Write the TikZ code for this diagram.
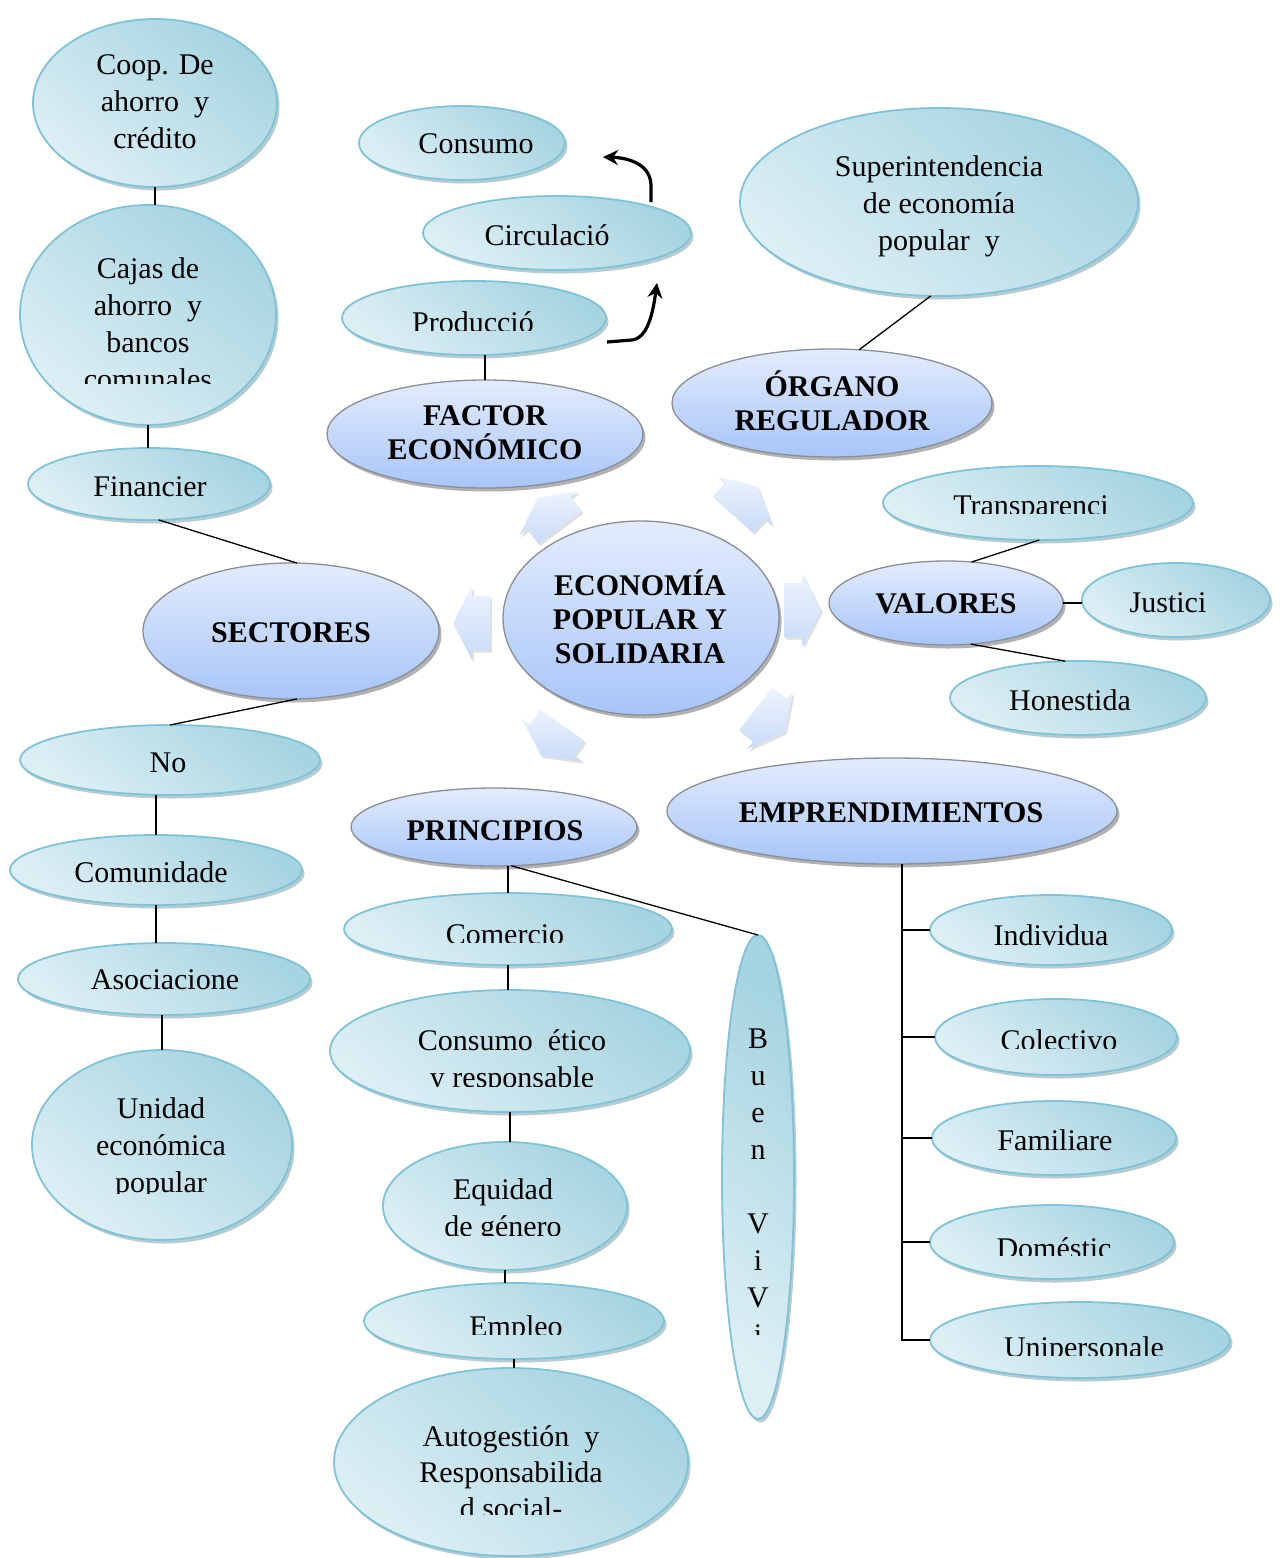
\documentclass[tikz,border=0pt]{standalone}
\usepackage{fontspec}
\setmainfont{Liberation Serif}
\usetikzlibrary{shapes.geometric,shadows,arrows.meta,calc}
\definecolor{cyL}{HTML}{DDEFF5}
\definecolor{cyD}{HTML}{A6D4E1}
\definecolor{cyB}{HTML}{80C3D6}
\definecolor{cyS}{HTML}{5E8E9C}
\definecolor{blT}{HTML}{E3ECFD}
\definecolor{blB}{HTML}{A8C5F8}
\definecolor{blE}{HTML}{8A8E98}
\definecolor{arT}{HTML}{EDF3FE}
\definecolor{arB}{HTML}{C9DBF8}
\newcommand{\tstr}{\rule{0pt}{30pt}}
\newcommand{\blockarr}[3]{\path[arw, shift={(#1,#2)}, rotate=#3] (-18,-27) -- (0,-27) -- (0,-37) -- (19,0) -- (0,37) -- (0,27) -- (-18,27) -- cycle;}
\begin{document}
\begin{tikzpicture}[x=1pt,y=-1pt,
  cy/.style={ellipse, draw=cyB, line width=1.8pt, inner sep=0pt, outer sep=0pt,
    top color=cyD, bottom color=cyL, shading angle=-40,
    drop shadow={shadow xshift=2.5pt, shadow yshift=-3.5pt, fill=cyS, opacity=0.45}},
  bl/.style={ellipse, draw=blE, line width=1.3pt, inner sep=0pt, outer sep=0pt,
    top color=blT, bottom color=blB,
    drop shadow={shadow xshift=2.5pt, shadow yshift=-3.5pt, fill=black, opacity=0.3}},
  tx/.style={font=\fontsize{30}{37}\selectfont, inner sep=0pt, align=center},
  bx/.style={font=\fontsize{30}{34}\selectfont\bfseries, inner sep=0pt, align=center},
  ln/.style={line width=1.3pt, black},
  cv/.style={line width=3.2pt, black, -{Stealth[length=15pt,width=15pt]}},
  arw/.style={top color=arT, bottom color=arB, draw=none,
    drop shadow={shadow xshift=2pt, shadow yshift=-2.5pt, fill=black, opacity=0.12}}
]
\fill[white] (0,0) rectangle (1280,1558);
\useasboundingbox (0,0) rectangle (1280,1558);

% ---------- block arrows around the centre ----------
\blockarr{549}{513}{127}
\blockarr{745}{501}{48}
\blockarr{472}{623}{180}
\blockarr{802}{610}{0}
\blockarr{552}{740}{-125}
\blockarr{770}{720}{-38}

% ---------- main (blue) nodes ----------
\node[bl, minimum width=276, minimum height=194] (eco) at (641,618) {};
\node[bx, anchor=north] (ecoT) at (640,565) {\tstr ECONOMÍA\\POPULAR Y\\SOLIDARIA};
\node[bl, minimum width=316, minimum height=108] (fac) at (485,434) {};
\node[bx, anchor=north] (facT) at (485,395) {\tstr FACTOR\\ECONÓMICO};
\node[bl, minimum width=320, minimum height=108] (org) at (832,403) {};
\node[bx, anchor=north] (orgT) at (832,366) {\tstr ÓRGANO\\REGULADOR};
\node[bl, minimum width=296, minimum height=136] (sect) at (291,631) {};
\node[bx, anchor=base] (sectT) at (291,642) {SECTORES};
\node[bl, minimum width=234, minimum height=84] (val) at (946,603) {};
\node[bx, anchor=base] (valT) at (946,613) {VALORES};
\node[bl, minimum width=450, minimum height=106] (emp) at (892,811) {};
\node[bx, anchor=base] (empT) at (891,822) {EMPRENDIMIENTOS};
\node[bl, minimum width=286, minimum height=78] (prin) at (494,827) {};
\node[bx, anchor=base] (prinT) at (495,840) {PRINCIPIOS};

% ---------- Sectores branch ----------
\node[cy, minimum width=244, minimum height=168] (coop) at (155,103) {};
\node[tx, anchor=north] (coopT) at (155,44) {\tstr Coop. De\\ahorro~ y\\crédito};
\node[cy, minimum width=256, minimum height=220] (cajas) at (148,315) {};
\begin{scope}
\clip (20,200) rectangle (280,383);
\node[tx, anchor=north] (cajasT) at (148,248) {\tstr Cajas de\\ahorro~ y\\bancos\\comunales};
\end{scope}
\node[cy, minimum width=242, minimum height=72] (fin) at (149,484) {};
\node[tx, anchor=base] (finT) at (150,496) {Financier};
\node[cy, minimum width=300, minimum height=70] (no) at (170,760) {};
\node[tx, anchor=base] (noT) at (168,772) {No};
\node[cy, minimum width=292, minimum height=70] (com) at (156,870) {};
\node[tx, anchor=base] (comT) at (151,882) {Comunidade};
\node[cy, minimum width=292, minimum height=72] (aso) at (164,979) {};
\node[tx, anchor=base] (asoT) at (165,989) {Asociacione};
\node[cy, minimum width=260, minimum height=190] (uni) at (162,1145) {};
\begin{scope}
\clip (30,1050) rectangle (295,1193);
\node[tx, anchor=north] (uniT) at (161,1088) {\tstr Unidad\\económica\\popular};
\end{scope}

% ---------- Factor económico branch ----------
\node[cy, minimum width=206, minimum height=74] (cons) at (462,143) {};
\node[tx, anchor=base] (consT) at (476,153) {Consumo};
\node[cy, minimum width=268, minimum height=74] (circ) at (557,233) {};
\node[tx, anchor=base] (circT) at (547,245) {Circulació};
\node[cy, minimum width=264, minimum height=74] (prod) at (474,318) {};
\begin{scope}
\clip (340,280) rectangle (610,330);
\node[tx, anchor=base] (prodT) at (473,332) {Producció};
\end{scope}

% ---------- Órgano regulador branch ----------
\node[cy, minimum width=398, minimum height=188] (sup) at (939,202) {};
\node[tx, anchor=north] (supT) at (939,146) {\tstr Superintendencia\\de economía\\popular~ y};

% ---------- Valores branch ----------
\node[cy, minimum width=310, minimum height=74] (trans) at (1038,503) {};
\begin{scope}
\clip (880,460) rectangle (1200,513);
\node[tx, anchor=base] (transT) at (1031,515) {Transparenci};
\end{scope}
\node[cy, minimum width=188, minimum height=74] (just) at (1176,600) {};
\node[tx, anchor=base] (justT) at (1168,612) {Justici};
\node[cy, minimum width=256, minimum height=74] (hon) at (1078,698) {};
\node[tx, anchor=base] (honT) at (1070,710) {Honestida};

% ---------- Principios branch ----------
\node[cy, minimum width=328, minimum height=72] (comer) at (508,929) {};
\begin{scope}
\clip (340,890) rectangle (675,942);
\node[tx, anchor=base] (comerT) at (505,944) {Comercio};
\end{scope}
\node[cy, minimum width=360, minimum height=122] (ceti) at (510,1051) {};
\begin{scope}
\clip (330,990) rectangle (695,1086);
\node[tx, anchor=north] (cetiT) at (512,1020) {\tstr Consumo~ ético\\y responsable};
\end{scope}
\node[cy, minimum width=244, minimum height=128] (equ) at (505,1206) {};
\begin{scope}
\clip (380,1140) rectangle (630,1235);
\node[tx, anchor=north] (equT) at (503,1169) {\tstr Equidad\\de género};
\end{scope}
\node[cy, minimum width=300, minimum height=76] (emple) at (514,1321) {};
\begin{scope}
\clip (365,1280) rectangle (670,1334);
\node[tx, anchor=base] (empleT) at (516,1336) {Empleo};
\end{scope}
\node[cy, minimum width=354, minimum height=188] (auto) at (511,1462) {};
\begin{scope}
\clip (335,1366) rectangle (690,1514);
\node[tx, font=\fontsize{30}{36}\selectfont, anchor=north] (autoT) at (511,1416) {\tstr Autogestión~ y\\Responsabilida\\d social-};
\end{scope}
\node[cy, minimum width=72, minimum height=484] (buen) at (758,1177) {};
\begin{scope}
\clip (720,935) rectangle (800,1334);
\node[tx, anchor=north] (buenT) at (758,1018) {\tstr B\\u\\e\\n\\\mbox{}\\V\\i\\V\\i};
\end{scope}

% ---------- Emprendimientos branch ----------
\node[cy, minimum width=242, minimum height=70] (indiv) at (1051,930) {};
\node[tx, anchor=base] (indivT) at (1051,945) {Individua};
\node[cy, minimum width=242, minimum height=76] (colec) at (1056,1037) {};
\begin{scope}
\clip (930,995) rectangle (1180,1048);
\node[tx, anchor=base] (colecT) at (1059,1050) {Colectivo};
\end{scope}
\node[cy, minimum width=244, minimum height=74] (fam) at (1054,1138) {};
\node[tx, anchor=base] (famT) at (1055,1150) {Familiare};
\node[cy, minimum width=244, minimum height=74] (dom) at (1052,1242) {};
\begin{scope}
\clip (925,1200) rectangle (1180,1255);
\node[tx, anchor=base] (domT) at (1054,1258) {Doméstic};
\end{scope}
\node[cy, minimum width=300, minimum height=76] (unip) at (1080,1340) {};
\begin{scope}
\clip (925,1298) rectangle (1235,1355);
\node[tx, anchor=base] (unipT) at (1084,1357) {Unipersonale};
\end{scope}

% ---------- connectors ----------
\draw[ln] (coop.south) -- (coop.south |- cajas.north);
\draw[ln] (cajas.south) -- (cajas.south |- fin.north);
\draw[ln] (fin.-75) -- (sect.85);
\draw[ln] (sect.-85) -- (no.north);
\draw[ln] (com.north |- no.south) -- (com.north);
\draw[ln] (com.south) -- (com.south |- aso.north);
\draw[ln] (uni.north |- aso.south) -- (uni.north);

\draw[ln] (fac.north |- prod.south) -- (fac.north);
\coordinate (pa) at (607,342);
\coordinate (pb) at (657,283);
\draw[cv] (pa) -- (632,340) .. controls (648,338) and (653,312) .. (pb);
\coordinate (ca) at (651,202);
\coordinate (cb) at (603,157);
\draw[cv] (ca) -- (651,186) .. controls (651,166) and (632,158) .. (cb);

\draw[ln] (sup.-95) -- (org.63);

\draw[ln] (val.58) -- (trans.-88);
\draw[ln] (val.east) -- (val.east -| just.west);
\draw[ln] (val.-59) -- (hon.109);

\draw[ln] (comer.north |- prin.south) -- (comer.north);
\draw[ln] (prin.-66) -- (buen.north);
\draw[ln] (comer.south) -- (comer.south |- ceti.north);
\draw[ln] (ceti.south) -- (ceti.south |- equ.north);
\draw[ln] (equ.south) -- (equ.south |- emple.north);
\draw[ln] (emple.south) -- (emple.south |- auto.north);

\coordinate (tk) at (902,1340);
\draw[ln] (emp.south -| tk) -- (tk) -- (unip.west);
\draw[ln] (indiv.west) -- (indiv.west -| tk);
\draw[ln] (colec.west) -- (colec.west -| tk);
\draw[ln] (fam.west) -- (fam.west -| tk);
\draw[ln] (dom.west) -- (dom.west -| tk);
\end{tikzpicture}
\end{document}
